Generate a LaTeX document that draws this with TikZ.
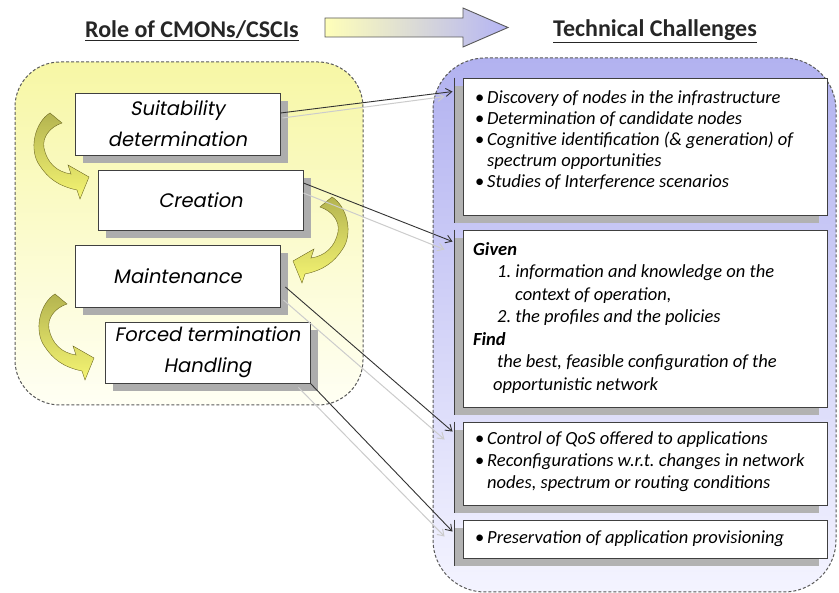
\documentclass[tikz,border=0pt]{standalone}
\usepackage{fontspec}
\setmainfont{Carlito}
\newfontfamily\gothic[FakeSlant=0.18]{Poppins}
\usetikzlibrary{arrows.meta,calc,shadows}
\definecolor{ylw}{RGB}{247,247,165}
\definecolor{ylwlight}{RGB}{255,255,244}
\definecolor{lav}{RGB}{178,178,240}
\definecolor{lavlight}{RGB}{244,244,255}
\definecolor{olv}{RGB}{180,180,80}
\definecolor{ylwarrow}{RGB}{245,245,115}
\definecolor{arrY}{RGB}{255,255,185}
\definecolor{arrG}{RGB}{222,222,222}
\definecolor{arrL}{RGB}{180,180,245}
\newcommand{\rbul}{\makebox[12pt][l]{\upshape\textbullet}}
\newcommand{\indnt}{\hspace*{12pt}}
\frenchspacing
\tikzset{
 lbox/.style={draw=black!75, line width=0.9pt, fill=white, minimum width=205pt, inner sep=0pt, align=center,
   font=\gothic\fontsize{19.5}{31}\selectfont,
   drop shadow={shadow xshift=8pt, shadow yshift=-8pt, fill=black!32, opacity=1}},
 rbox/.style={draw=black!75, line width=0.9pt, fill=white, minimum width=364pt, inner sep=0pt,
   drop shadow={shadow xshift=-8pt, shadow yshift=-8pt, fill=black!30, opacity=1}},
 rtext/.style={anchor=north west, inner sep=0pt, align=left, font=\fontsize{18.5}{21}\selectfont\itshape\frenchspacing},
 conn/.style={draw=black!80, line width=0.9pt, -{Straight Barb[length=6pt,width=8pt]}},
 connlight/.style={draw=black!20, line width=1pt, -{Straight Barb[length=6pt,width=8pt]}},
 container/.style={draw=black!65, line width=1pt, dash pattern=on 3pt off 2pt},
 title/.style={font=\fontsize{24}{28}\selectfont\bfseries, text=black!85},
 curv/.style={draw=olive!70!black, line width=0.4pt, top color=olv, bottom color=ylwarrow},
 shadedge/.style={draw=black!75, line width=1pt},
 pics/curvarrow/.style={code={
   \path[curv] (-6,-5) .. controls (-21,4) and (-28,32) .. (-16,48)
     .. controls (-8,60) and (2,68) .. (21,72) -- (24,81) -- (33,59) -- (12,47) -- (15,56)
     .. controls (1,54) and (-9,45) .. (-12,30) .. controls (-14,19) and (-6,9) .. (6,5) -- cycle;}}
}
\begin{document}
\begin{tikzpicture}[x=1pt,y=-1pt]
\useasboundingbox[fill=white] (0,0) rectangle (839,593);

% containers
\draw[container, top color=ylw, bottom color=ylwlight, rounded corners=45pt] (15,62) rectangle (363,405);
\draw[container, top color=lav, bottom color=lavlight, rounded corners=52pt] (433,58) rectangle (836,592);

% titles and big arrow
\node[title] (trole) at (192,31) {\underline{Role of CMONs/CSCIs}};
\node[title] (ttech) at (655,31) {\underline{Technical Challenges}};
\draw[draw=black!65, line width=0.9pt, left color=arrY, middle color=arrG, right color=arrL]
  (325,18) -- (463,18) -- (463,8) -- (508,27.5) -- (463,47) -- (463,37) -- (325,37) -- cycle;

% curved arrows
\pic at (56,118) {curvarrow};
\pic[xscale=-1] at (326,202) {curvarrow};
\pic at (61,299) {curvarrow};

% left boxes
\node[lbox, minimum height=62pt] (suit) at (177.5,124) {Suitability\\determination};
\node[lbox, minimum height=60pt] (crea) at (200.5,200) {Creation};
\node[lbox, minimum height=62pt] (main) at (177.5,276) {Maintenance};
\node[lbox, minimum height=61pt] (forc) at (207.5,352.5) {Forced termination\\Handling};

% right boxes
\node[rbox, minimum height=137pt] (b1) at (645,146.5) {};
\node[rbox, minimum height=177pt] (b2) at (645,318.5) {};
\node[rbox, minimum height=83pt] (b3) at (645,463.5) {};
\node[rbox, minimum height=38pt] (b4) at (645,539) {};
\foreach \b in {b1,b2,b3,b4}{
  \draw[shadedge] ($(\b.north west)+(-8,0)$) -- ($(\b.south west)+(-8,8)$);
}

\node[rtext] (t1) at (475,90.5) {\rbul Discovery of nodes in the infrastructure\\
 \rbul Determination of candidate nodes\\
 \rbul Cognitive identification (\&\ generation) of\\
 \indnt spectrum opportunities\\
 \rbul Studies of Interference scenarios};
\node[rtext, font=\fontsize{18.5}{22.5}\selectfont\itshape\frenchspacing] (t2) at (473,242) {{\bfseries Given}\\
 \hspace*{24pt}1. information and knowledge on the\\
 \hspace*{42pt}context of operation,\\
 \hspace*{24pt}2. the profiles and the policies\\
 {\bfseries Find}\\
 \hspace*{24pt}the best, feasible configuration of the\\
 \hspace*{20pt}opportunistic network};
\node[rtext, font=\fontsize{18.5}{22}\selectfont\itshape\frenchspacing] (t3) at (475,431.5) {\rbul Control of QoS offered to applications\\
 \rbul Reconfigurations w.r.t. changes in network\\
 \indnt nodes, spectrum or routing conditions};
\node[rtext] (t4) at (475,530.5) {\rbul Preservation of application provisioning};

% connectors
\draw[connlight] ($(suit.east)+(2,-6)$) -- ($(b1.north west)+(-18,19)$);
\draw[connlight] ($(crea.east)+(0,-7)$) -- ($(b2.north west)+(-18,20)$);
\draw[connlight] ($(main.east)+(3,24)$) -- ($(b3.north west)+(-18,18)$);
\draw[connlight] ($(forc.south east)+(-12,4)$) -- ($(b4.north west)+(-18,17)$);
\draw[conn] ($(suit.east)+(0,-11)$) -- ($(b1.north west)+(-10,14)$);
\draw[conn] ($(crea.east)+(0,-17)$) -- ($(b2.north west)+(-10,12)$);
\draw[conn] ($(main.east)+(5,11)$) -- ($(b3.north west)+(-10,10)$);
\draw[conn] (forc.south east) -- ($(b4.north west)+(-10,12)$);
\end{tikzpicture}
\end{document}
